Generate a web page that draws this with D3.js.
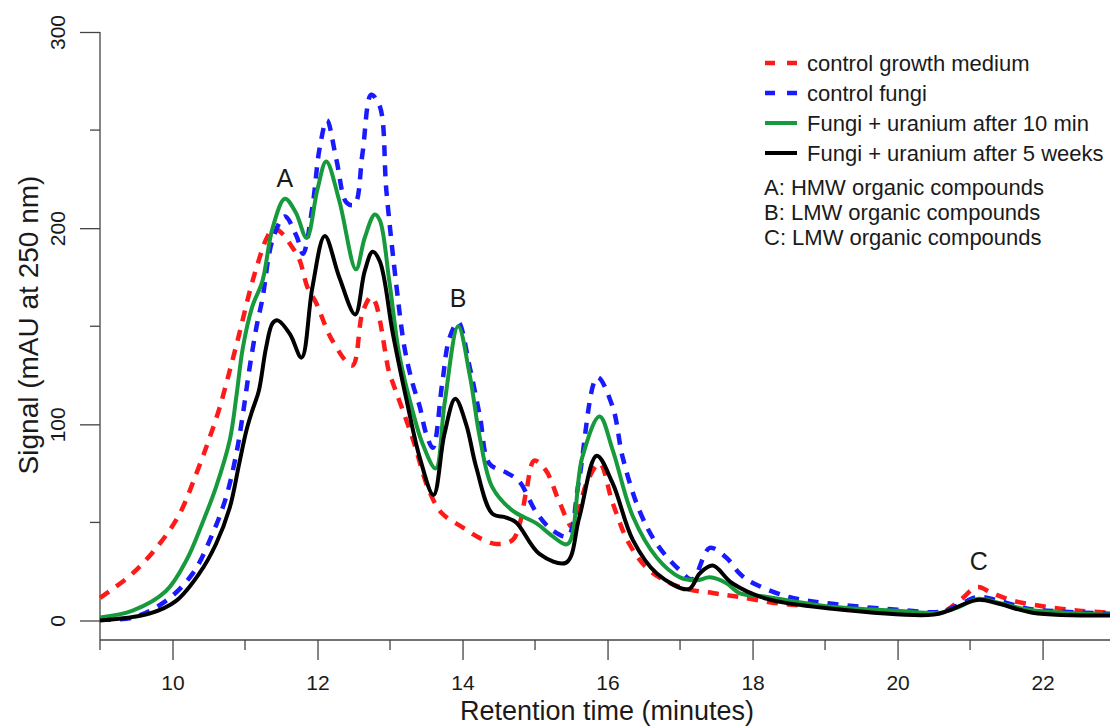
<html>
<head>
<meta charset="utf-8">
<script src="https://cdn.jsdelivr.net/npm/d3@7"></script>
<style>
body{ margin:0; background:#fff; }
svg{ font-family: Arial, "Liberation Sans", sans-serif; }
.tick-line{ stroke:#444; stroke-width:1.3; }
.curve{ fill:none; stroke-linejoin:round; }
</style>
</head>
<body>
<div id="chart"></div>
<script>
// values (minutes, mAU)
var redTime   = [9.0, 9.45, 9.82, 10.1, 10.33, 10.51, 10.65, 10.79, 10.92, 11.06, 11.16, 11.3, 11.4, 11.52, 11.62, 11.75, 11.86, 11.98, 12.2, 12.48, 12.62, 12.74, 12.8, 12.86, 12.99, 13.04, 13.31, 13.54, 13.72, 14.0, 14.24, 14.47, 14.69, 14.79, 14.88, 14.99, 15.15, 15.34, 15.52, 15.71, 15.89, 16.07, 16.3, 16.58, 17.0, 17.45, 17.82, 18.4, 19.1, 20.0, 20.6, 20.85, 21.1, 21.3, 21.6, 22.05, 22.5, 22.93];
var redSignal = [11.5, 24, 39, 54.5, 75, 93, 108.5, 127.5, 146, 167, 180, 195, 200, 197, 192, 184, 170, 162, 143, 130, 157, 165, 162, 153, 126, 121, 93, 66, 54.5, 47.5, 42, 39, 41, 49.5, 66, 81.5, 76.5, 60, 47.5, 70, 80, 60, 39, 25.5, 17, 14, 12, 8.5, 7, 5, 4, 10, 17, 14, 10, 7, 5, 4];

var blueTime   = [9.0, 9.45, 9.91, 10.28, 10.55, 10.74, 10.88, 10.97, 11.06, 11.16, 11.24, 11.38, 11.55, 11.71, 11.8, 11.93, 12.03, 12.13, 12.26, 12.4, 12.51, 12.62, 12.74, 12.86, 12.95, 13.09, 13.2, 13.31, 13.41, 13.5, 13.59, 13.72, 13.82, 13.94, 14.1, 14.24, 14.37, 14.6, 14.78, 15.02, 15.24, 15.45, 15.6, 15.86, 16.07, 16.21, 16.44, 16.68, 17.0, 17.17, 17.41, 17.64, 17.82, 17.96, 18.5, 19.1, 20.0, 20.6, 20.85, 21.1, 21.4, 21.8, 22.3, 22.93];
var blueSignal = [0.5, 1.5, 10, 24, 44, 63, 85, 105, 128, 150, 164, 194, 206, 196, 187, 211, 241, 255, 235, 213, 212, 238, 268, 262, 219, 170, 139, 121, 109, 95, 88, 121, 144, 152, 129, 104, 80, 75.5, 71, 55, 46, 43, 70, 124, 109, 83, 56, 39, 25.5, 21, 37, 32, 24, 20, 12, 8.5, 5.5, 4.5, 8, 12, 10, 6, 4.5, 3.5];

var greenTime   = [9.0, 9.45, 9.91, 10.19, 10.41, 10.6, 10.79, 10.88, 10.97, 11.1, 11.24, 11.38, 11.55, 11.7, 11.85, 12.0, 12.12, 12.3, 12.53, 12.65, 12.79, 12.86, 12.99, 13.13, 13.31, 13.45, 13.63, 13.75, 13.94, 14.1, 14.24, 14.41, 14.69, 15.02, 15.24, 15.45, 15.65, 15.89, 16.07, 16.35, 16.68, 17.0, 17.23, 17.41, 17.64, 17.82, 18.2, 19.1, 20.0, 20.6, 20.85, 21.1, 21.4, 21.8, 22.3, 22.93];
var greenSignal = [1.5, 5, 15, 30.6, 49.5, 68, 92, 114, 139, 160, 173, 200, 215, 208, 195, 220, 234, 214, 179, 195, 207, 204, 173, 135, 107, 90, 77.5, 110, 150, 125, 93, 68, 56, 49.5, 43, 39, 83, 104, 87, 53, 32, 22, 20.5, 22, 19, 14, 12, 7, 5, 4, 7, 11, 9, 5.5, 4, 3];

var blackTime   = [9.0, 9.68, 10.05, 10.37, 10.6, 10.79, 10.92, 11.02, 11.1, 11.19, 11.29, 11.38, 11.45, 11.62, 11.78, 11.93, 12.1, 12.3, 12.52, 12.65, 12.76, 12.86, 13.04, 13.23, 13.41, 13.6, 13.75, 13.9, 14.05, 14.19, 14.41, 14.6, 14.74, 15.06, 15.43, 15.61, 15.85, 16.07, 16.35, 16.68, 17.12, 17.27, 17.45, 17.72, 18.2, 19.1, 20.5, 20.7, 21.1, 21.4, 21.86, 22.93];
var blackSignal = [0, 3.5, 10, 24, 39, 57.6, 80, 97, 107, 117, 139, 151.5, 153, 146, 134, 170, 196, 175, 156, 178, 188, 183, 146, 112, 83, 64, 95, 113, 100, 78, 54.5, 52.5, 50, 34, 29.5, 52.5, 84, 70, 41, 24, 16, 24, 28, 19, 11, 6, 3, 5, 10.5, 8.5, 4, 2.5];

var seriesNames  = ["control growth medium", "control fungi", "Fungi + uranium after 10 min", "Fungi + uranium after 5 weeks"];
var seriesColors = ["#ff1a1a", "#1a1aff", "#169a3c", "#000000"];
var seriesDashed = [true, true, false, false];

var peakLabels = ["A", "B", "C"];
var peakTime   = [11.55, 13.94, 21.12];
var peakSignal = [221, 160, 25.5];

var noteLines = ["A: HMW organic compounds", "B: LMW organic compounds", "C: LMW organic compounds"];

var xMajor = [10, 12, 14, 16, 18, 20, 22];
var xMinor = [9, 11, 13, 15, 17, 19, 21];
var yMajor = [0, 100, 200, 300];
var yMinor = [50, 150, 250];

var width = 1110, height = 727;

var x = d3.scaleLinear().domain([9, 22.93]).range([100, 1110]);
var y = d3.scaleLinear().domain([0, 300]).range([620.5, 32]);

var svg = d3.select("#chart").append("svg")
	.attr("width", width)
	.attr("height", height);

// axes, R style
var xAxisY = 640;
svg.append("line").attr("class", "tick-line")
	.attr("x1", x(9)).attr("x2", width).attr("y1", xAxisY).attr("y2", xAxisY);
svg.append("line").attr("class", "tick-line")
	.attr("x1", x(9)).attr("x2", x(9)).attr("y1", y(300)).attr("y2", xAxisY);

var xAxis = d3.axisBottom(x).tickValues(xMajor).tickSize(20).tickSizeOuter(0).tickFormat(d3.format("d"));
var gx = svg.append("g").attr("transform", "translate(0," + xAxisY + ")").call(xAxis);
gx.select(".domain").remove();
gx.selectAll(".tick line").attr("class", "tick-line");
gx.selectAll(".tick text").attr("dy", 0).attr("y", 50).style("font-size", "21px").attr("fill", "#1a1a1a");

svg.selectAll(".xminor").data(xMinor).enter().append("line")
	.attr("class", "tick-line")
	.attr("x1", function(d) { return x(d); }).attr("x2", function(d) { return x(d); })
	.attr("y1", xAxisY).attr("y2", xAxisY + 10);

var yAxis = d3.axisLeft(y).tickValues(yMajor).tickSize(20).tickSizeOuter(0).tickFormat(d3.format("d"));
var gy = svg.append("g").attr("transform", "translate(" + x(9) + ",0)").call(yAxis);
gy.select(".domain").remove();
gy.selectAll(".tick line").attr("class", "tick-line");
gy.selectAll(".tick text")
	.attr("x", null).attr("dy", null)
	.attr("transform", "translate(-35,0) rotate(-90)")
	.attr("text-anchor", "middle")
	.attr("y", 0)
	.style("font-size", "21px").attr("fill", "#1a1a1a");

svg.selectAll(".yminor").data(yMinor).enter().append("line")
	.attr("class", "tick-line")
	.attr("x1", x(9) - 10).attr("x2", x(9))
	.attr("y1", function(d) { return y(d); }).attr("y2", function(d) { return y(d); });

svg.append("text")
	.attr("x", 607).attr("y", 720)
	.attr("text-anchor", "middle")
	.style("font-size", "27px").attr("fill", "#1a1a1a")
	.text("Retention time (minutes)");

svg.append("text")
	.attr("transform", "translate(38,325) rotate(-90)")
	.attr("text-anchor", "middle")
	.style("font-size", "28px").attr("fill", "#1a1a1a")
	.text("Signal (mAU at 250 nm)");

// curves
var allTimes = [redTime, blueTime, greenTime, blackTime];
var allSignals = [redSignal, blueSignal, greenSignal, blackSignal];

var line = d3.line()
	.x(function(d) { return x(d[0]); })
	.y(function(d) { return y(d[1]); })
	.curve(d3.curveCatmullRom.alpha(0.5));

allTimes.forEach(function(times, i) {
	var pts = times.map(function(t, j) { return [t, allSignals[i][j]]; });
	svg.append("path")
		.attr("class", "curve")
		.attr("d", line(pts))
		.attr("stroke", seriesColors[i])
		.attr("stroke-width", seriesDashed[i] ? 4.5 : 4)
		.attr("stroke-dasharray", seriesDashed[i] ? "11,9" : null);
});

// peak letters
svg.selectAll(".peak").data(peakLabels).enter().append("text")
	.attr("class", "peak")
	.attr("x", function(d, i) { return x(peakTime[i]); })
	.attr("y", function(d, i) { return y(peakSignal[i]); })
	.attr("text-anchor", "middle")
	.style("font-size", "25px").attr("fill", "#1a1a1a")
	.text(function(d) { return d; });

// legend
var legend = svg.append("g");
seriesNames.forEach(function(name, i) {
	var cy = 63 + i * 30;
	legend.append("line")
		.attr("x1", 765).attr("x2", 797).attr("y1", cy).attr("y2", cy)
		.attr("stroke", seriesColors[i])
		.attr("stroke-width", seriesDashed[i] ? 4.5 : 4)
		.attr("stroke-dasharray", seriesDashed[i] ? "10,12" : null);
	legend.append("text")
		.attr("x", 807).attr("y", cy + 8)
		.style("font-size", "22px").attr("fill", "#1a1a1a")
		.text(name);
});
noteLines.forEach(function(txt, i) {
	legend.append("text")
		.attr("x", 764).attr("y", 195 + i * 25)
		.style("font-size", "22px").attr("fill", "#1a1a1a")
		.text(txt);
});
</script>
</body>
</html>
